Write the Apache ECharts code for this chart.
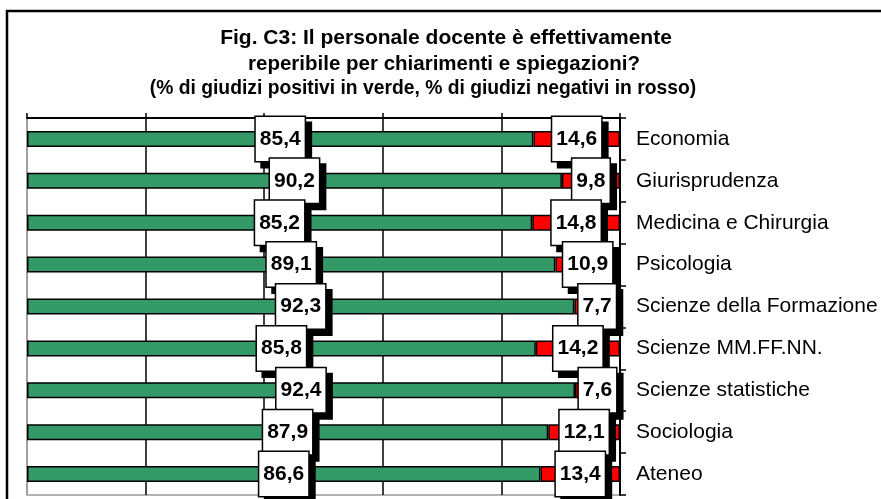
<!DOCTYPE html>
<html>
<head>
<meta charset="utf-8">
<script src="https://cdn.jsdelivr.net/npm/echarts@6/dist/echarts.min.js"></script>
<style>
html, body { margin: 0; padding: 0; background: #fff; }
#chart { width: 881px; height: 499px; }
</style>
</head>
<body>
<div id="chart"></div>
<script>
var categories = ['Economia', 'Giurisprudenza', 'Medicina e Chirurgia', 'Psicologia',
    'Scienze della Formazione', 'Scienze MM.FF.NN.', 'Scienze statistiche', 'Sociologia', 'Ateneo'];
var positivi = [85.4, 90.2, 85.2, 89.1, 92.3, 85.8, 92.4, 87.9, 86.6];
var negativi = [14.6, 9.8, 14.8, 10.9, 7.7, 14.2, 7.6, 12.1, 13.4];
var titleLines = [
    'Fig. C3: Il personale docente è effettivamente',
    'reperibile per chiarimenti e spiegazioni?',
    '(% di giudizi positivi in verde, % di giudizi negativi in rosso)'
];

var myChart = echarts.init(document.getElementById('chart'));

function fmt(p) {
    return p.value.toFixed(1).replace('.', ',');
}

var boxLabel = {
    show: true,
    position: 'inside',
    formatter: fmt,
    fontFamily: 'Liberation Sans, Arial, sans-serif',
    fontWeight: 'bold',
    fontSize: 21,
    color: '#000',
    backgroundColor: '#fff',
    borderColor: '#000',
    borderWidth: 1.5,
    padding: [12, 4, 11, 4],
    shadowColor: '#000',
    shadowOffsetX: 6,
    shadowOffsetY: 6,
    shadowBlur: 0
};

// the three title lines do not share one centre in the original
var titleCenters = [446, 444, 423];
var titleTops = [28, 54, 79];
var titleSizes = [21, 20.5, 19.3];
var titles = [];
for (var i = 0; i < titleLines.length; i++) {
    titles.push({
        text: titleLines[i],
        left: titleCenters[i],
        top: titleTops[i],
        textAlign: 'center',
        padding: 0,
        textStyle: {
            fontFamily: 'Liberation Sans, Arial, sans-serif',
            fontWeight: 'bold',
            fontSize: titleSizes[i],
            color: '#000'
        }
    });
}

option = {
    backgroundColor: '#fff',
    animation: false,
    title: titles,
    graphic: [{
        type: 'rect',
        z: -10,
        shape: { x: 7, y: 11, width: 900, height: 520 },
        style: { fill: 'none', stroke: '#000', lineWidth: 2.5 }
    }],
    grid: {
        left: 27,
        right: 261,
        top: 118,
        bottom: 4,
        show: true,
        backgroundColor: '#fff',
        borderColor: '#999',
        borderWidth: 1.5
    },
    xAxis: {
        type: 'value',
        position: 'top',
        min: 0,
        max: 100,
        interval: 20,
        axisLine: { show: true, onZero: false, lineStyle: { color: '#000', width: 2 } },
        axisTick: { show: true, length: 5, lineStyle: { color: '#000', width: 1.5 } },
        axisLabel: { show: false },
        splitLine: {
            show: true,
            lineStyle: { color: ['#999', '#000', '#000', '#000', '#000', '#000'], width: 1.5 }
        }
    },
    yAxis: {
        type: 'category',
        data: categories,
        inverse: true,
        position: 'right',
        axisLine: { show: true, onZero: false, lineStyle: { color: '#000', width: 2 } },
        axisTick: { show: true, length: 6, lineStyle: { color: '#000', width: 1.5 } },
        axisLabel: {
            margin: 16,
            fontFamily: 'Liberation Sans, Arial, sans-serif',
            fontSize: 21,
            color: '#000'
        }
    },
    series: [
        {
            name: 'positivi',
            type: 'bar',
            stack: 'tot',
            barWidth: 16,
            data: positivi,
            itemStyle: { color: '#339966', borderColor: '#000', borderWidth: 1.5 },
            label: boxLabel
        },
        {
            name: 'negativi',
            type: 'bar',
            stack: 'tot',
            barWidth: 16,
            data: negativi,
            itemStyle: { color: '#ff0000', borderColor: '#000', borderWidth: 1.5 },
            label: boxLabel
        }
    ]
};

myChart.setOption(option);
</script>
</body>
</html>
